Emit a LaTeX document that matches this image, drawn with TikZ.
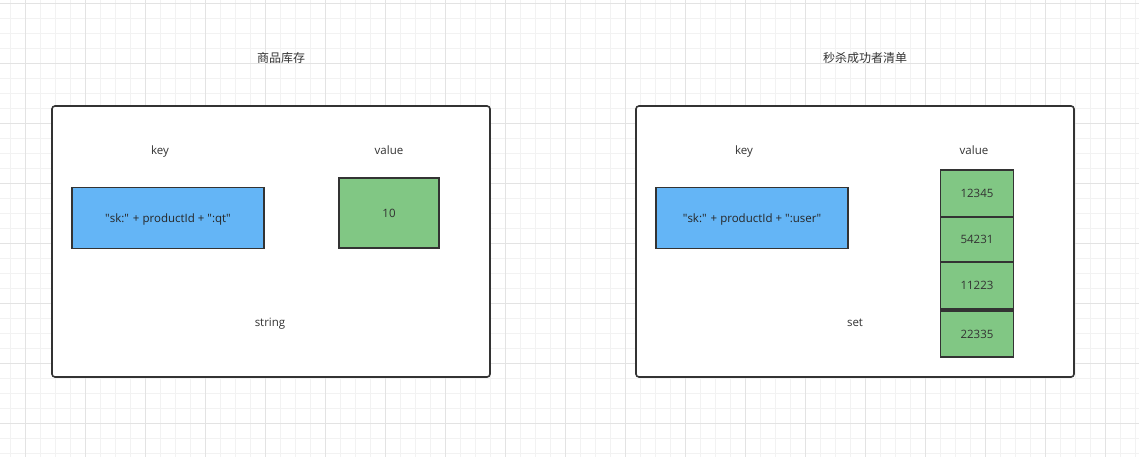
\documentclass[tikz,border=0pt]{standalone}
\usepackage{fontspec}
\setmainfont{Open Sans}
\newfontfamily\cjk{Noto Sans CJK SC}
\definecolor{gridminor}{HTML}{F2F2F2}
\definecolor{gridmajor}{HTML}{E3E3E3}
\definecolor{linegray}{HTML}{333333}
\definecolor{keyblue}{HTML}{64B5F6}
\definecolor{valgreen}{HTML}{81C784}
\newcommand{\qq}{\textquotedbl}
\begin{document}
\begin{tikzpicture}[x=1pt, y=-1pt,
    frame/.style = {draw=linegray, line width=1.6pt, fill=white, rounded corners=3pt},
    keybox/.style = {draw=linegray, line width=1.6pt, fill=keyblue, minimum width=192pt, minimum height=61pt, inner sep=0pt},
    valbox/.style = {draw=linegray, line width=1.6pt, fill=valgreen, inner sep=0pt},
    lbl/.style = {text=linegray, font=\fontsize{11.5}{14}\selectfont, inner sep=0pt, text height=10.5pt, text depth=2.5pt},
    title/.style = {text=linegray, font=\cjk\fontsize{12}{14}\selectfont, inner sep=0pt}]
  \useasboundingbox (0,0) rectangle (1139,457);
  \fill[white] (0,0) rectangle (1139,457);
  % background grid
  \foreach \gx in {10,25,...,1139} \draw[gridminor, line width=0.8pt] (\gx,0) -- (\gx,457);
  \foreach \gy in {3,18,...,457} \draw[gridminor, line width=0.8pt] (0,\gy) -- (1139,\gy);
  \foreach \gx in {25,85,...,1139} \draw[gridmajor, line width=0.8pt] (\gx,0) -- (\gx,457);
  \foreach \gy in {3,63,...,457} \draw[gridmajor, line width=0.8pt] (0,\gy) -- (1139,\gy);

  % stock: string
  \node[title] at (281,57.5) (stock) {商品库存};
  \draw[frame] (52,106) rectangle (490,377);
  \node[lbl] at (160,150.5) (stockkey) {key};
  \node[lbl] at (389,150.5) (stockvalue) {value};
  \node[keybox, lbl, text=black!85] at (168,218) (stockk) {\qq sk:\qq{} + productId + \qq:qt\qq};
  \node[valbox, lbl, minimum width=100pt, minimum height=70pt] at (389,213) (stockv) {10};
  \node[lbl] at (270,322.5) (stocktype) {string};

  % seckill users: set
  \node[title] at (865,57.5) (users) {秒杀成功者清单};
  \draw[frame] (636,106) rectangle (1074,377);
  \node[lbl] at (744,150.5) (userskey) {key};
  \node[lbl] at (974,150.5) (usersvalue) {value};
  \node[keybox, lbl, text=black!85] at (752,218) (usersk) {\qq sk:\qq{} + productId + \qq:user\qq};
  \node[valbox, lbl, minimum width=73pt, minimum height=47pt] at (977,193.5) (u1) {12345};
  \node[valbox, lbl, minimum width=73pt, minimum height=45pt] at (977,239.5) (u2) {54231};
  \node[valbox, lbl, minimum width=73pt, minimum height=47pt] at (977,285.5) (u3) {11223};
  \node[valbox, lbl, minimum width=73pt, minimum height=46pt] at (977,334) (u4) {22335};
  \node[lbl] at (855,322.5) (userstype) {set};
\end{tikzpicture}
\end{document}
